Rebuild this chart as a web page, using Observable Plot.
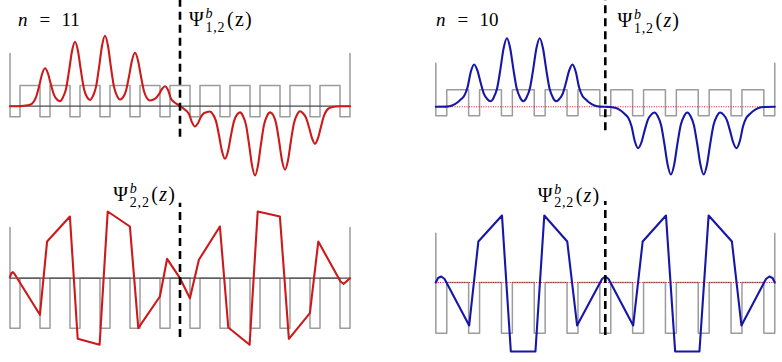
<!DOCTYPE html>
<html><head><meta charset="utf-8">
<script src="https://cdn.jsdelivr.net/npm/d3@7"></script>
<script src="https://cdn.jsdelivr.net/npm/@observablehq/plot@0.6"></script>
<style>
body{margin:0;background:#fff;}
#fig{position:relative;width:782px;height:362px;overflow:hidden;background:#fff;}
#fig svg{position:absolute;}
</style></head><body><div id="fig"></div>
<script>
// ---------- DATA ----------
// well (dip) centres of the periodic potential, in lattice periods
const wellsN11 = [-5.5,-4.5,-3.5,-2.5,-1.5,-0.5,0.5,1.5,2.5,3.5,4.5,5.5];
const wellsN10 = [-5,-4,-3,-2,-1,0,1,2,3,4,5];
const wellHalfWidth = 1/6;
// potential levels [edge top, barrier, well]
const levelsN11top = [5.27, 2.07, -1.06];
const levelsN10top = [4.36, 1.7, -0.9];
const levelsN11bot = [5.07, 0, -5.0];
const levelsN10bot = [4.93, 0, -5.07];

// Ψ^b_{1,2}(z), n = 11  [z, ψ]
const psi12n11 = [
[-5.667,0],[-5.4,0],[-5.2,0.05],[-5.0,0.15],[-4.9,0.35],[-4.8,0.9],[-4.7,1.95],[-4.6,3.2],[-4.5,3.8],[-4.4,3.27],[-4.3,2.13],[-4.2,1.14],[-4.1,0.67],[-4.0,0.5],
[-3.9,0.9],[-3.8,1.73],[-3.7,3.5],[-3.6,5.5],[-3.5,6.44],[-3.4,5.5],[-3.3,3.5],[-3.2,1.73],[-3.1,0.92],[-3.0,0.62],
[-2.9,1.03],[-2.8,1.93],[-2.7,3.85],[-2.6,6.02],[-2.5,7.04],[-2.4,6.02],[-2.3,3.85],[-2.2,1.93],[-2.1,1.03],[-2.0,0.67],
[-1.9,0.88],[-1.8,1.55],[-1.7,2.97],[-1.6,4.58],[-1.5,5.34],[-1.4,4.58],[-1.3,2.97],[-1.2,1.5],[-1.1,0.8],[-1.0,0.57],
[-0.9,0.64],[-0.8,0.82],[-0.7,1.2],[-0.6,1.72],[-0.5,2.0],[-0.4,1.62],[-0.3,0.75],[-0.2,0.42],[-0.1,0.2],[0,0],
[0.1,-0.2],[0.2,-0.42],[0.3,-0.78],[0.4,-1.62],[0.5,-2.03],[0.6,-1.7],[0.7,-1.05],[0.8,-0.7],[0.9,-0.58],[1.0,-0.53],
[1.1,-0.83],[1.2,-1.49],[1.3,-2.9],[1.4,-4.51],[1.5,-5.26],[1.6,-4.51],[1.7,-2.9],[1.8,-1.49],[1.9,-0.85],[2.0,-0.62],
[2.1,-0.98],[2.2,-1.87],[2.3,-3.77],[2.4,-5.92],[2.5,-6.93],[2.6,-5.92],[2.7,-3.77],[2.8,-1.87],[2.9,-0.98],[3.0,-0.62],
[3.1,-0.85],[3.2,-1.67],[3.3,-3.43],[3.4,-5.42],[3.5,-6.36],[3.6,-5.42],[3.7,-3.43],[3.8,-1.67],[3.9,-0.85],[4.0,-0.5],
[4.1,-0.7],[4.2,-1.15],[4.3,-2.1],[4.4,-3.2],[4.5,-3.76],[4.6,-3.2],[4.7,-2.05],[4.8,-0.95],[4.9,-0.38],[5.0,-0.15],[5.2,-0.03],[5.4,0],[5.667,0]
];
// Ψ^b_{1,2}(z), n = 10
const psi12n10 = [
[-5.167,0],[-4.85,0.02],[-4.67,0.13],[-4.5,0.45],[-4.4,0.75],[-4.3,1.1],[-4.2,1.95],[-4.1,3.5],[-4.0,4.23],[-3.9,3.64],[-3.8,2.4],[-3.7,1.29],[-3.6,0.78],[-3.5,0.56],
[-3.4,0.94],[-3.3,1.82],[-3.2,3.71],[-3.1,5.85],[-3.0,6.86],[-2.9,5.85],[-2.8,3.71],[-2.7,1.82],[-2.6,0.94],[-2.5,0.56],
[-2.4,0.94],[-2.3,1.82],[-2.2,3.71],[-2.1,5.85],[-2.0,6.86],[-1.9,5.85],[-1.8,3.71],[-1.7,1.82],[-1.6,0.94],[-1.5,0.56],
[-1.4,0.78],[-1.3,1.29],[-1.2,2.4],[-1.1,3.64],[-1.0,4.23],[-0.9,3.5],[-0.8,1.95],[-0.7,1.1],[-0.6,0.75],[-0.5,0.45],[-0.33,0.13],[-0.15,0.02],[0,0],
[0.15,-0.02],[0.33,-0.13],[0.5,-0.45],[0.6,-0.75],[0.7,-1.1],[0.8,-1.95],[0.9,-3.45],[1.0,-4.14],[1.1,-3.57],[1.2,-2.36],[1.3,-1.28],[1.4,-0.78],[1.5,-0.57],
[1.6,-0.94],[1.7,-1.81],[1.8,-3.67],[1.9,-5.78],[2.0,-6.77],[2.1,-5.78],[2.2,-3.67],[2.3,-1.81],[2.4,-0.94],[2.5,-0.57],
[2.6,-0.94],[2.7,-1.81],[2.8,-3.67],[2.9,-5.78],[3.0,-6.77],[3.1,-5.78],[3.2,-3.67],[3.3,-1.81],[3.4,-0.94],[3.5,-0.57],
[3.6,-0.78],[3.7,-1.28],[3.8,-2.36],[3.9,-3.57],[4.0,-4.14],[4.1,-3.45],[4.2,-1.95],[4.3,-1.1],[4.4,-0.75],[4.5,-0.45],[4.67,-0.13],[4.85,-0.02],[5.167,0]
];
// Ψ^b_{2,2}(z), n = 11
const psi22n11 = [
[-5.667,0.1],[-5.62,0.5],[-5.57,0.6],[-5.52,0.45],[-4.67,-3.66],[-4.43,3.67],[-3.67,6.17],[-3.41,-6.06],[-2.68,-6.66],[-2.41,6.67],
[-1.67,5.17],[-1.39,-5.0],[-0.67,-1.83],[-0.43,1.94],[0,0],[0.33,-2.0],[0.63,1.84],[1.33,5.17],[1.61,-4.93],[2.32,-6.66],
[2.59,6.67],[3.33,6.17],[3.63,-6.06],[4.33,-3.5],[4.61,3.67],[5.35,-0.33],[5.46,-0.56],[5.667,0]
];
// Ψ^b_{2,2}(z), n = 10
const psi22n10 = [
[-5.167,0],[-5.1,0.45],[-5.0,0.6],[-4.9,0.35],[-4.15,-4.3],[-3.87,4.1],[-3.15,6.7],[-2.88,-6.9],[-2.13,-6.9],[-1.86,6.7],
[-1.16,4.1],[-0.86,-4.3],[-0.1,0.35],[0,0.6],[0.1,0.35],[0.85,-4.3],[1.14,4.1],[1.85,6.7],[2.13,-6.9],[2.87,-6.9],
[3.15,6.7],[3.86,4.1],[4.15,-4.3],[4.9,0.35],[5.0,0.6],[5.1,0.45],[5.167,0]
];
// vertical dashed marker extents [ψ bottom, ψ top]
const dashTL = [-3.1, 10.6], dashTR = [-2.4, 10.7], dashBL = [-5.93, 7.5], dashBR = [-5.3, 8.1];

// text
const labelN11 = ["n", "=", "11"];
const labelN10 = ["n", "=", "10"];
const labelPsi12 = ["Ψ", "b", "1,2"];
const labelPsi22 = ["Ψ", "b", "2,2"];

// ---------- DRAW ----------
const RED = "#cc1a1a", BLUE = "#1616a8", GRAY = "#9c9c9c";

function potentialPath(wells, [top, high, low]) {
  const pts = [];
  const zL = wells[0] - wellHalfWidth, zR = wells[wells.length - 1] + wellHalfWidth;
  pts.push([zL, top]);
  wells.forEach((c, i) => {
    pts.push([c - wellHalfWidth, low], [c + wellHalfWidth, low]);
    if (i < wells.length - 1) pts.push([c + wellHalfWidth, high], [wells[i + 1] - wellHalfWidth, high]);
  });
  pts.push([zR, low], [zR, top]);
  return pts;
}

function panel({left, top, xdom, ydom, wells, levels, psi, color, zeroStyle, dash, smooth}) {
  const zL = wells[0] - wellHalfWidth, zR = wells[wells.length - 1] + wellHalfWidth;
  const zero = zeroStyle === "dark"
    ? Plot.ruleY([0], {x1: zL, x2: zR, stroke: "#4a4a4a", strokeWidth: 1.3})
    : Plot.ruleY([0], {x1: zL, x2: zR, stroke: "#d01010", strokeWidth: 1, strokeDasharray: "1,1.4"});
  const svg = Plot.plot({
    width: 391, height: 181, margin: 0,
    x: {domain: xdom, axis: null},
    y: {domain: ydom, axis: null},
    marks: [
      Plot.line(potentialPath(wells, levels), {x: d => d[0], y: d => d[1], stroke: GRAY, strokeWidth: 1.5}),
      zero,
      Plot.line(psi, {x: d => d[0], y: d => d[1], stroke: color, strokeWidth: 2.1, strokeLinejoin: "round",
        curve: smooth ? "monotone-x" : "linear"}),
      Plot.ruleX([0], {y1: dash[0], y2: dash[1], stroke: "#000", strokeWidth: 2.6, strokeDasharray: "8,5"})
    ]
  });
  svg.style.left = left + "px";
  svg.style.top = top + "px";
  return svg;
}

const fig = document.getElementById("fig");
const xOdd = [-179.5 / 30, (391 - 179.5) / 30];
const xEven = [-213.8 / 32.8, (391 - 213.8) / 32.8];

fig.appendChild(panel({left: 0, top: 0, xdom: xOdd, ydom: [-7.53, 10.57], wells: wellsN11, levels: levelsN11top, psi: psi12n11, color: RED, zeroStyle: "dark", dash: dashTL, smooth: true}));
fig.appendChild(panel({left: 391, top: 0, xdom: xEven, ydom: [-7.47, 10.63], wells: wellsN10, levels: levelsN10top, psi: psi12n10, color: BLUE, zeroStyle: "dot", dash: dashTR, smooth: true}));
fig.appendChild(panel({left: 0, top: 181, xdom: xOdd, ydom: [-8.43, 9.67], wells: wellsN11, levels: levelsN11bot, psi: psi22n11, color: RED, zeroStyle: "dark", dash: dashBL, smooth: false}));
fig.appendChild(panel({left: 391, top: 181, xdom: xEven, ydom: [-8.0, 10.1], wells: wellsN10, levels: levelsN10bot, psi: psi22n10, color: BLUE, zeroStyle: "dot", dash: dashBR, smooth: false}));

// ---------- LABELS ----------
const ov = d3.select(fig).append("svg").attr("width", 782).attr("height", 362)
  .style("left", "0px").style("top", "0px")
  .attr("font-family", "'Liberation Serif', 'DejaVu Serif', serif").attr("fill", "#000");

function nLabel(x, y, parts) {
  const g = ov.append("g").attr("font-size", 19);
  g.append("text").attr("x", x).attr("y", y).attr("font-style", "italic").text(parts[0]);
  g.append("text").attr("x", x + 21.5).attr("y", y).text(parts[1]);
  g.append("text").attr("x", x + 43.5).attr("y", y).text(parts[2]);
}
function psiLabel(x, y, parts, zItalic) {
  const g = ov.append("g");
  g.append("text").attr("x", x).attr("y", y).attr("font-size", 20).text(parts[0]);
  g.append("text").attr("x", x + 16.5).attr("y", y - 8).attr("font-size", 14).attr("font-style", "italic").text(parts[1]);
  g.append("text").attr("x", x + 16.5).attr("y", y + 5.5).attr("font-size", 14).attr("letter-spacing", 0.8).text(parts[2]);
  const t = g.append("text").attr("x", x + 38).attr("y", y).attr("font-size", 20).attr("letter-spacing", 1.2);
  t.append("tspan").text("(");
  t.append("tspan").attr("font-style", zItalic ? "italic" : "normal").text("z");
  t.append("tspan").text(")");
}
nLabel(18, 26, labelN11);
nLabel(436, 26, labelN10);
psiLabel(189, 26, labelPsi12, false);
psiLabel(617.5, 27, labelPsi12, true);
psiLabel(113.3, 201, labelPsi22, true);
psiLabel(537.7, 201.5, labelPsi22, true);
</script>
</body></html>
